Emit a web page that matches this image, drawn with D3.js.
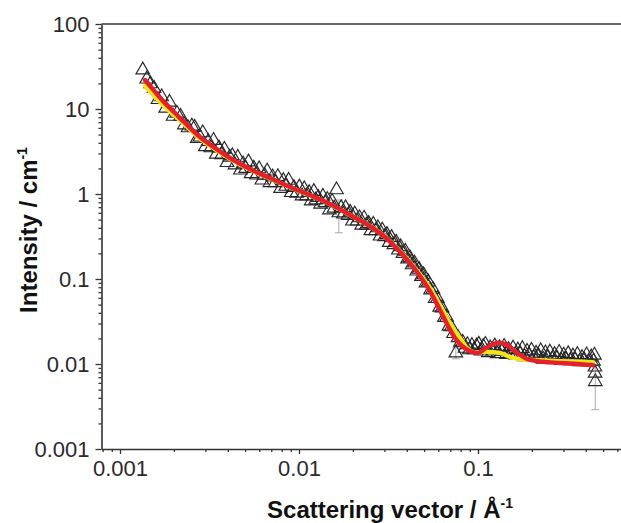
<!DOCTYPE html>
<html><head><meta charset="utf-8">
<script src="https://cdn.jsdelivr.net/npm/d3@7"></script>
<style>body{margin:0;background:#fff}svg{display:block}</style>
</head><body>
<svg id="c" width="621" height="523"></svg>
<script>
// ---- data ----
const qData = [
0.00134,0.00141,0.00148,0.00155,0.00163,0.00171,0.00180,0.00189,0.00198,0.00208,0.00218,0.00229,0.00240,0.00252,
0.00261,0.00270,0.00280,0.00290,0.00300,0.00311,0.00322,0.00333,0.00345,0.00357,0.00370,0.00383,0.00396,0.00410,0.00424,0.00439,0.00455,0.00471,0.00487,0.00504,0.00522,0.00540,0.00559,0.00579,0.00599,0.00620,0.00642,0.00664,0.00688,0.00712,0.00737,0.00762,0.00789,0.00817,0.00845,0.00875,0.00906,0.00937,0.00970,0.01004,
0.0104,0.0107,0.0110,0.0114,0.0117,0.0121,0.0124,0.0128,0.0132,0.0136,0.0140,0.0144,0.0148,0.0153,0.0157,0.0162,0.0167,0.0172,0.0177,0.0182,0.0188,0.0193,0.0199,0.0205,0.0211,0.0218,0.0224,0.0231,0.0238,0.0245,0.0252,0.0260,0.0268,0.0276,0.0284,0.0292,0.0301,0.0310,0.0319,0.0329,0.0339,0.0349,0.0359,0.0370,0.0381,0.0393,0.0404,0.0416,0.0429,0.0442,0.0455,0.0469,0.0483,0.0497,0.0512,0.0528,0.0543,0.0560,0.0576,0.0594,0.0611,0.0630,0.0649,0.0668,0.0688,0.0709,0.0730,0.0752,0.0774,0.0798,0.0822,0.0846,0.0872,0.0898,0.0925,0.0952,0.0981,
0.101,0.104,0.107,0.110,0.114,0.117,0.121,0.124,0.128,0.132,0.136,0.140,0.144,0.148,0.153,0.157,0.162,0.167,0.172,0.177,0.182,0.188,0.193,0.199,0.205,0.211,0.218,0.224,0.231,0.238,0.245,0.252,0.260,0.268,0.276,0.284,0.292,0.301,0.310,0.319,0.329,0.339,0.349,0.359,0.370,0.381,0.393,0.404,0.416,0.429,0.442,0.447,0.450,0.451,0.452
];
const iData = [
28.8,22.5,19.8,17.5,12.9,13.9,10.2,12.0,8.2,8.9,8.2,6.5,6.0,6.3,
6.1,4.5,4.68,5.25,3.6,4.15,3.49,4.27,2.94,3.48,2.9,3.36,2.34,2.71,2.82,2.2,2.7,1.91,2.26,2.0,2.38,1.73,2.01,1.67,1.98,1.46,1.66,1.86,1.36,1.59,1.36,1.6,1.16,1.44,1.23,1.45,1.04,1.19,1.02,1.21,
0.95,1.15,0.95,1.04,0.83,1.07,0.85,0.91,0.76,0.94,0.79,0.86,0.65,0.82,0.68,1.12,0.60,0.69,0.58,0.69,0.56,0.61,0.48,0.58,0.48,0.525,0.43,0.52,0.43,0.45,0.37,0.44,0.37,0.40,0.32,0.376,0.314,0.334,0.269,0.308,0.253,0.271,0.219,0.239,0.200,0.212,0.172,0.178,0.147,0.154,0.124,0.130,0.107,0.112,0.090,0.092,0.074,0.0756,0.0588,0.0588,0.0465,0.0456,0.0352,0.0354,0.0278,0.0274,0.0228,0.0135,0.0204,0.0180,0.0180,0.0153,0.0169,0.0147,0.0165,0.0147,0.0163,
0.0171,0.0142,0.0161,0.0170,0.0136,0.0155,0.0142,0.0163,0.0132,0.0155,0.0141,0.0161,0.0129,0.0148,0.0133,0.0154,0.0128,0.0146,0.0132,0.0152,0.0122,0.0141,0.0126,0.0145,0.0119,0.0134,0.0124,0.0143,0.0114,0.0135,0.0118,0.0138,0.0114,0.0129,0.0117,0.0137,0.0110,0.0127,0.0113,0.0132,0.0109,0.0124,0.0112,0.0129,0.0106,0.0119,0.0111,0.0128,0.0106,0.0121,0.0108,0.0127,0.0092,0.0078,0.0062
];
// visible error bars
const errQ  = [0.0167, 0.0752, 0.452];
const errLo = [0.35, 0.0115, 0.0029];
const errHi = [0.85, 0.0155, 0.0095];

// fitted curves
const redQ = [0.00138,0.00157,0.00178,0.00203,0.00231,0.0028,0.00339,0.00412,0.00532,0.00689,0.00891,0.0115,0.0149,0.0193,0.0249,0.0302,0.0367,0.0417,0.0474,0.0539,0.0613,0.068,0.0744,0.0814,0.0902,0.1,0.111,0.1277,0.1452,0.1652,0.1878,0.2307,0.2871,0.3573,0.4391];
const redI = [21.9,15.9,11.8,8.97,6.85,4.68,3.48,2.65,1.97,1.54,1.21,0.973,0.763,0.566,0.42,0.312,0.208,0.154,0.1085,0.0722,0.0432,0.028,0.0202,0.0163,0.0142,0.0135,0.0155,0.0177,0.0167,0.0135,0.0115,0.0106,0.0103,0.0100,0.0097];
const yelQ = [0.00138,0.00157,0.00178,0.00203,0.00231,0.0028,0.00339,0.00412,0.00532,0.00689,0.00891,0.0115,0.0149,0.0193,0.0249,0.0302,0.0367,0.0417,0.0474,0.0539,0.0613,0.068,0.0744,0.0814,0.0868,0.094,0.1125,0.1327,0.1565,0.1878,0.2871,0.4391];
const yelI = [18.6,13.9,10.6,8.3,6.5,4.5,3.38,2.6,1.94,1.52,1.2,0.965,0.758,0.565,0.42,0.315,0.212,0.158,0.113,0.0783,0.0494,0.033,0.0244,0.0187,0.0154,0.0139,0.0139,0.0135,0.0118,0.0112,0.0108,0.0105];

// ticks
const xTicks = [0.001, 0.01, 0.1];
const xTickLabels = ["0.001", "0.01", "0.1"];
const yTicks = [0.001, 0.01, 0.1, 1, 10, 100];
const yTickLabels = ["0.001", "0.01", "0.1", "1", "10", "100"];
const xTitle = "Scattering vector / Å";
const yTitle = "Intensity / cm";
const unitExp = "-1";

// ---- chart ----
const svg = d3.select("#c");
const FONT = "'Liberation Sans', Arial, sans-serif";
const x0 = d3.scaleLog().domain([0.001, 0.1]).range([120, 478]);
const x = d3.scaleLog().domain([x0.invert(101.5), x0.invert(640)]).range([101.5, 640]);
const y = d3.scaleLog().domain([0.001, 100]).range([449, 24]);

const minorOf = (ticks, lo, hi) => {
  const out = [];
  ticks.concat([ticks[ticks.length-1]*10]).forEach(t => {
    for (let k = 2; k <= 9; k++) { const v = t/10*k; if (v > lo && v < hi) out.push(v); }
  });
  return out;
};
const xMinor = minorOf(xTicks, x.domain()[0]*1.001, x.domain()[1]);
const yMinor = minorOf(yTicks, 0.001, 100);

const axisColor = "#333";

// top frame line
svg.append("line").attr("x1", x.range()[0]).attr("x2", 640).attr("y1", y(100)).attr("y2", y(100))
  .attr("stroke", axisColor).attr("stroke-width", 1.6);

// error bars
const eb = svg.append("g").attr("stroke", "#aaa").attr("stroke-width", 1).attr("fill", "none");
errQ.forEach((q, i) => {
  const cx = x(q);
  eb.append("line").attr("x1", cx).attr("x2", cx).attr("y1", y(errLo[i])).attr("y2", y(errHi[i]));
  eb.append("line").attr("x1", cx-4).attr("x2", cx+4).attr("y1", y(errLo[i])).attr("y2", y(errLo[i]));
  eb.append("line").attr("x1", cx-4).attr("x2", cx+4).attr("y1", y(errHi[i])).attr("y2", y(errHi[i]));
});

// data triangles
const tri = d3.symbol(d3.symbolTriangle, 80);
svg.append("g").selectAll("path").data(qData.map((q, i) => [q, iData[i]])).join("path")
  .attr("d", tri)
  .attr("transform", d => `translate(${x(d[0])},${y(d[1])})`)
  .attr("fill", "none").attr("stroke", "#262626").attr("stroke-width", 1.15);

// fit lines
const line = d3.line().x(d => x(d[0])).y(d => y(d[1])).curve(d3.curveCatmullRom.alpha(0.5));
svg.append("path").datum(yelQ.map((q, i) => [q, yelI[i]])).attr("d", line)
  .attr("fill", "none").attr("stroke", "#f2e41a").attr("stroke-width", 4.5).attr("stroke-linecap", "round");
svg.append("path").datum(redQ.map((q, i) => [q, redI[i]])).attr("d", line)
  .attr("fill", "none").attr("stroke", "#e3202b").attr("stroke-width", 4.5).attr("stroke-linecap", "round");

// axes
const gx = svg.append("g").attr("transform", `translate(0,${y(0.001)})`);
gx.call(d3.axisBottom(x).tickValues(xTicks).tickSize(5).tickSizeOuter(0).tickFormat((d, i) => xTickLabels[i]));
gx.append("g").call(d3.axisBottom(x).tickValues(xMinor).tickSize(3).tickSizeOuter(0).tickFormat(""))
  .select(".domain").remove();
const gy = svg.append("g").attr("transform", `translate(${x.range()[0]},0)`);
gy.call(d3.axisLeft(y).tickValues(yTicks).tickSize(6).tickSizeOuter(0).tickFormat((d, i) => yTickLabels[i]));
gy.append("g").call(d3.axisLeft(y).tickValues(yMinor).tickSize(3).tickSizeOuter(0).tickFormat(""))
  .select(".domain").remove();

[gx, gy].forEach(g => {
  g.selectAll(".domain").attr("stroke", axisColor).attr("stroke-width", 1.6);
  g.selectAll(".tick line").attr("stroke", axisColor).attr("stroke-width", 1.3);
  g.selectAll(".tick text").attr("font-family", FONT).attr("font-size", 22).attr("fill", "#2a2a2a");
});
gx.selectAll(".tick text").attr("y", 11).attr("dy", "0.71em");
gy.selectAll(".tick text").attr("x", -12).attr("dy", "0.36em");

// titles
const xt = svg.append("text").attr("x", 390).attr("y", 518).attr("text-anchor", "middle")
  .attr("font-family", FONT).attr("font-weight", "bold").attr("font-size", 24).attr("fill", "#111");
xt.append("tspan").text(xTitle);
xt.append("tspan").attr("font-size", 14).attr("dy", -10).text(unitExp);

const yt = svg.append("text").attr("transform", "translate(37,230) rotate(-90)").attr("text-anchor", "middle")
  .attr("font-family", FONT).attr("font-weight", "bold").attr("font-size", 24).attr("fill", "#111");
yt.append("tspan").text(yTitle);
yt.append("tspan").attr("font-size", 14).attr("dy", -10).text(unitExp);
</script>
</body></html>
